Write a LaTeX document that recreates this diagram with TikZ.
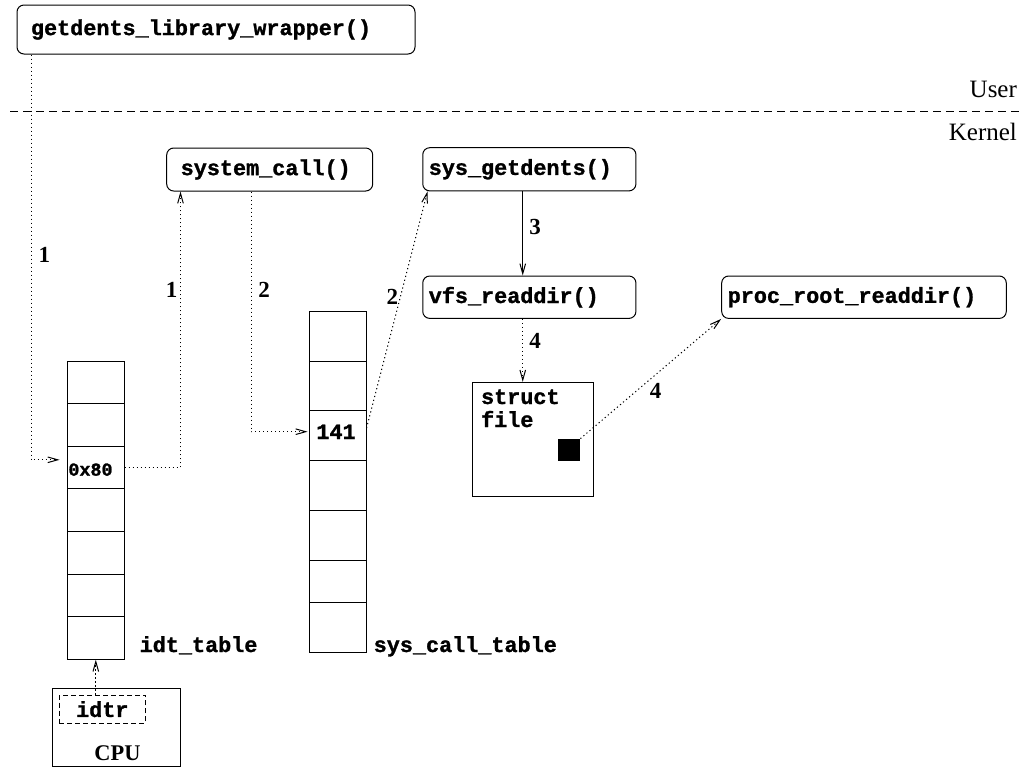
\documentclass[tikz,border=0pt]{standalone}
\usepackage{fontspec}
\setmainfont{Liberation Serif}
\newfontfamily\codefont[BoldFeatures={FakeBold=1.2}]{Liberation Mono}
\usetikzlibrary{arrows.meta}

\begin{document}
\begin{tikzpicture}[x=0.5pt,y=-0.5pt,
  code/.style={font=\codefont\bfseries\fontsize{10.9}{11.5}\selectfont},
  func/.style={draw, line width=0.5pt, rounded corners=3.5pt, code, align=left, inner ysep=0pt},
  cell/.style={draw, line width=0.5pt, minimum width=28.4pt, inner sep=0pt},
  plainbox/.style={draw, line width=0.5pt, inner sep=0pt},
  numlabel/.style={font=\bfseries\fontsize{11.5}{13}\selectfont, inner sep=0pt},
  arrowtip/.style={-{Straight Barb[length=5pt,width=2.8pt]}},
  flow/.style={line width=0.5pt, dash pattern=on 0.6pt off 1.4pt, arrowtip},
  call/.style={line width=0.5pt, arrowtip},
]
\useasboundingbox (0,0) rectangle (1024,767);

% user / kernel boundary
\draw[line width=0.5pt, dash pattern=on 4pt off 2.5pt] (10,111) -- (1024,111);
\node[anchor=base east, inner sep=0pt, font=\fontsize{12.5}{14}\selectfont] (user) at (1017.3,97.7) {User};
\node[anchor=base east, inner sep=0pt, font=\fontsize{12.5}{14}\selectfont] (kernel) at (1017.3,140) {Kernel};

% functions
\node[func, text width=185pt, inner xsep=7pt, minimum height=24.5pt] (wrap) at (216,29.5) {getdents\_library\_wrapper()};
\node[func, text width=89pt, inner xsep=7pt, minimum height=21.5pt] (syscall) at (269.7,169.5) {system\_call()};
\node[func, text width=100.6pt, inner xsep=3pt, minimum height=21.6pt] (getdents) at (529.35,169.3) {sys\_getdents()};
\node[func, text width=100.6pt, inner xsep=3pt, minimum height=21.2pt] (vfs) at (529.35,297.2) {vfs\_readdir()};
\node[func, text width=136.3pt, inner xsep=3pt, minimum height=21.2pt] (proc) at (864,297.2) {proc\_root\_readdir()};

% interrupt descriptor table
\foreach \i in {1,...,7}
  \node[cell, minimum height=21.3pt] (idt\i) at (95.8,{361+42.6*(\i-0.5)}) {};
\node[code, anchor=base west, inner sep=0pt, font=\codefont\bfseries\fontsize{9.2}{11}\selectfont] (vec) at (68,475.7) {0x80};
\node[code, anchor=base west, inner sep=0pt] (idtname) at (139.3,652) {idt\_table};

% system call table
\foreach \t/\b [count=\i] in {311.7/361,361/410.7,410.7/460.7,460.7/510.3,510.3/560.3,560.3/602.7,602.7/652.7}{
  \pgfmathsetmacro\cellh{(\b-\t)*0.5}
  \node[cell, minimum height=\cellh pt] (sct\i) at (337.65,{(\t+\b)/2}) {};
}
\node[code, anchor=base west, inner sep=0pt] (nr) at (316,439) {141};
\node[code, anchor=base west, inner sep=0pt] (sctname) at (373.3,652) {sys\_call\_table};

% struct file
\node[plainbox, minimum width=60.5pt, minimum height=56.85pt] (sfile) at (533.2,439.15) {};
\node[code, align=left, anchor=base west, inner sep=0pt] (sfiletext) at (480.7,427) {struct\\file};
\node[fill=black, minimum size=11.15pt, inner sep=0pt] (sq) at (568.85,450.15) {};

% CPU
\node[plainbox, minimum width=64pt, minimum height=38.85pt] (cpu) at (116.7,727.15) {};
\node[plainbox, dash pattern=on 2.5pt off 1.5pt, code, minimum width=43pt, minimum height=14.15pt] (idtr) at (102.3,709.15) {idtr};
\node[anchor=base, inner sep=0pt, font=\bfseries\fontsize{11.2}{13}\selectfont] (cpulabel) at (117.5,760) {CPU};

% connectors
\draw[flow] ([xshift=7.35pt]wrap.south west) |- ([yshift=3.85pt,xshift=-3.65pt]idt3.west);
\draw[flow] (idt3.east) -| ([xshift=7.15pt]syscall.south west);
\draw[flow] ([xshift=42.5pt]syscall.south west) |- ([yshift=2pt,xshift=-0.6pt]sct3.west);
\draw[flow] ([yshift=3.85pt]sct3.east) -- ([xshift=2.65pt]getdents.south west);
\draw[call] ([xshift=-3.3pt]getdents.south) -- ([xshift=-3.3pt]vfs.north);
\draw[flow] ([xshift=-3.3pt]vfs.south) -- ([xshift=-3.3pt]vfs.south |- sfile.north);
\draw[flow] (sq.north east) -- (proc.south west);
\draw[flow] (idtr.north -| idt7.south) -- (idt7.south);

% step numbers
\node[numlabel] (l1a) at (44.3,254.7) {1};
\node[numlabel] (l1b) at (171.7,289.7) {1};
\node[numlabel] (l2a) at (264,289.5) {2};
\node[numlabel] (l2b) at (392.3,297.2) {2};
\node[numlabel] (l3) at (535,226.7) {3};
\node[numlabel] (l4a) at (535,341) {4};
\node[numlabel] (l4b) at (655.7,391) {4};
\end{tikzpicture}
\end{document}
